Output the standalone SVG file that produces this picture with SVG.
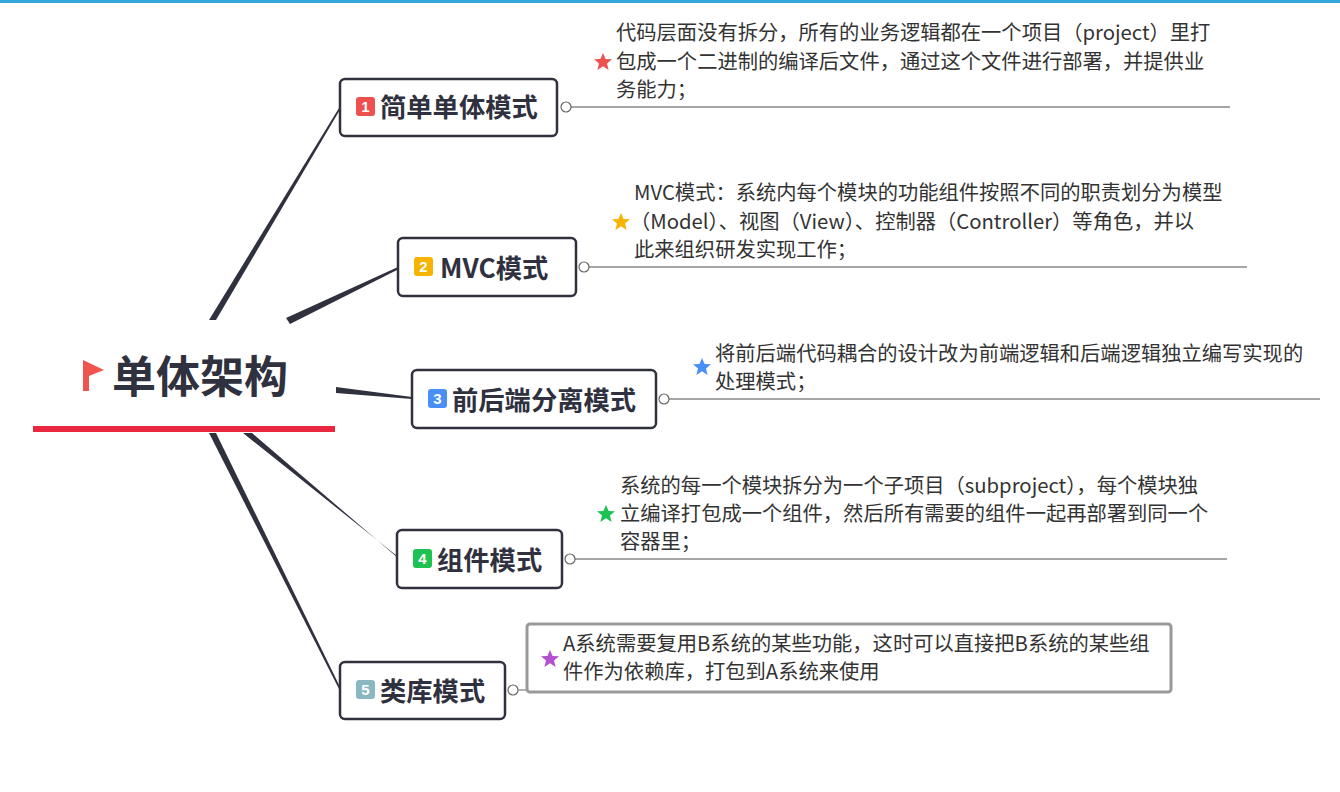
<svg xmlns="http://www.w3.org/2000/svg" width="1340" height="792" viewBox="0 0 1340 792">
<style>
.n{fill:#fff;stroke:#30313f;stroke-width:2.5}
.t{font-family:"Noto Sans CJK SC","Noto Sans",sans-serif;font-weight:bold;font-size:26.3px;fill:#30313f}
.b{font-family:"Liberation Sans",sans-serif;font-weight:bold;font-size:15px;fill:#fff;text-anchor:middle}
.d{font-family:"Noto Sans CJK SC","Noto Sans",sans-serif;font-size:20.3px;fill:#333}
.u{stroke:#888;stroke-width:1.3}
.c{fill:#fff;stroke:#666;stroke-width:1.2}
</style>
<defs><polygon id="star" points="0,-9 2.6,-3 9,-2.8 4,1.4 5.6,8 0,4.3 -5.6,8 -4,1.4 -9,-2.8 -2.6,-3"/></defs>
<rect x="0" y="0" width="1340" height="3" fill="#35a6dc"/>
<g id="connectors" fill="#30313f">
<polygon points="209,320 216,320 341,108 339,108"/>
<polygon points="286,318 290,324 399,269 398,267"/>
<polygon points="336,387 336,393 412,399 412,397"/>
<polygon points="243,433 252,433 398,558 397,556"/>
<polygon points="209,433 216,433 341,689 339,689"/>
</g>
<g id="root">
<polygon points="83,360 104,370 89,376 89,391 83,391" fill="#f0544f"/>
<text x="112" y="393" font-family="'Noto Sans CJK SC',sans-serif" font-weight="bold" font-size="44" fill="#30313f">单体架构</text>
<rect x="33" y="426" width="302" height="6" fill="#e9273f"/>
</g>
<g id="node1">
<rect class="n" x="340" y="79" width="217" height="57" rx="5"/>
<rect x="356" y="97" width="19" height="19" rx="3" fill="#ee5050"/><text class="b" x="365.5" y="112">1</text>
<text class="t" x="380" y="117">简单单体模式</text>
<line class="u" x1="571" y1="107" x2="1230" y2="107"/><circle class="c" cx="566" cy="107" r="5"/>
<use href="#star" x="603" y="62" fill="#ee5050"/>
<text class="d"><tspan x="616" y="40">代码层面没有拆分，所有的业务逻辑都在一个项目（project）里打</tspan><tspan x="616" y="69">包成一个二进制的编译后文件，通过这个文件进行部署，并提供业</tspan><tspan x="616" y="97">务能力；</tspan></text>
</g>
<g id="node2">
<rect class="n" x="398" y="238" width="178" height="58" rx="5"/>
<rect x="414" y="257" width="19" height="19" rx="3" fill="#f6b300"/><text class="b" x="423.5" y="272">2</text>
<text class="t" x="440" y="278">MVC模式</text>
<line class="u" x1="589" y1="267" x2="1247" y2="267"/><circle class="c" cx="584" cy="267" r="5"/>
<use href="#star" x="621" y="222" fill="#f6b300"/>
<text class="d"><tspan x="634" y="200">MVC模式：系统内每个模块的功能组件按照不同的职责划分为模型</tspan><tspan x="630" y="229">（Model）、视图（View）、控制器（Controller）等角色，并以</tspan><tspan x="634" y="257">此来组织研发实现工作；</tspan></text>
</g>
<g id="node3">
<rect class="n" x="412" y="370" width="244" height="58" rx="5"/>
<rect x="428" y="389" width="19" height="19" rx="3" fill="#4a8ff7"/><text class="b" x="437.5" y="404">3</text>
<text class="t" x="452" y="410">前后端分离模式</text>
<line class="u" x1="669" y1="399" x2="1320" y2="399"/><circle class="c" cx="664" cy="399" r="5"/>
<use href="#star" x="702" y="367" fill="#4a8ff7"/>
<text class="d"><tspan x="715" y="361">将前后端代码耦合的设计改为前端逻辑和后端逻辑独立编写实现的</tspan><tspan x="715" y="389">处理模式；</tspan></text>
</g>
<g id="node4">
<rect class="n" x="397" y="530" width="165" height="58" rx="5"/>
<rect x="413" y="549" width="19" height="19" rx="3" fill="#1dc252"/><text class="b" x="422.5" y="564">4</text>
<text class="t" x="437" y="570">组件模式</text>
<line class="u" x1="575" y1="559" x2="1227" y2="559"/><circle class="c" cx="570" cy="559" r="5"/>
<use href="#star" x="606" y="514" fill="#1dc252"/>
<text class="d"><tspan x="620" y="493">系统的每一个模块拆分为一个子项目（subproject），每个模块独</tspan><tspan x="620" y="521">立编译打包成一个组件，然后所有需要的组件一起再部署到同一个</tspan><tspan x="620" y="549">容器里；</tspan></text>
</g>
<g id="node5">
<rect class="n" x="340" y="662" width="165" height="57" rx="5"/>
<rect x="356" y="680" width="19" height="19" rx="3" fill="#8ab8c2"/><text class="b" x="365.5" y="695">5</text>
<text class="t" x="380" y="701">类库模式</text>
<circle class="c" cx="513" cy="690" r="5"/><line class="u" x1="518" y1="690" x2="528" y2="690"/>
<rect x="527" y="624" width="644" height="68" rx="3" fill="#fff" stroke="#999" stroke-width="3"/>
<use href="#star" x="550" y="659" fill="#b44fd1"/>
<text class="d"><tspan x="563" y="651">A系统需要复用B系统的某些功能，这时可以直接把B系统的某些组</tspan><tspan x="563" y="679">件作为依赖库，打包到A系统来使用</tspan></text>
</g>
</svg>
